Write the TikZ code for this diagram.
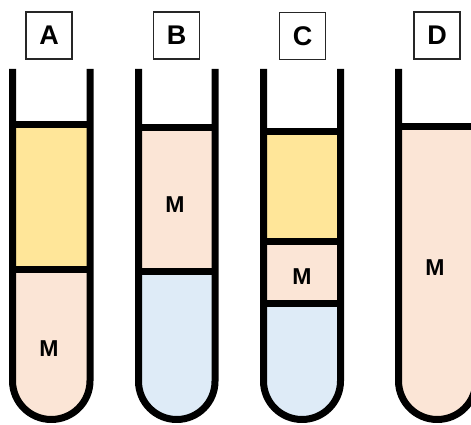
\documentclass[tikz,border=0pt]{standalone}
\usepackage{fontspec}
\setmainfont{Liberation Sans}
\definecolor{yel}{HTML}{FFE699}
\definecolor{peach}{HTML}{FBE5D6}
\definecolor{lblue}{HTML}{DEEBF7}
\newcommand\tubepath[2]{(#1,69) -- (#1,{423-3.5-(#2-#1)/2}) arc[start angle=180,end angle=360,radius={(#2-#1)/2*1pt}] -- (#2,69)}
\tikzset{
  wall/.style={line width=7pt,line join=round},
  layerline/.style={line width=7pt},
  labelbox/.style={draw=black!85,line width=1.6pt,minimum width=46pt,minimum height=47pt,inner sep=0pt,font=\fontsize{27}{27}\selectfont\bfseries},
  mlabel/.style={font=\fontsize{23}{23}\selectfont\bfseries,inner sep=0pt}
}
\begin{document}
\begin{tikzpicture}[x=1pt,y=-1pt]
\useasboundingbox (0,0) rectangle (471,425);
\clip (0,0) rectangle (471,425);
% Tube A
\begin{scope}
\clip \tubepath{12.5}{90} -- cycle;
\fill[yel] (0,125) rectangle (100,269);
\fill[peach] (0,269) rectangle (100,430);
\end{scope}
\draw[layerline] (12.5,125) -- (90,125);
\draw[layerline] (12.5,269) -- (90,269);
\draw[wall] \tubepath{12.5}{90};
% Tube B
\begin{scope}
\clip \tubepath{138.5}{215} -- cycle;
\fill[peach] (120,128) rectangle (230,271);
\fill[lblue] (120,271) rectangle (230,430);
\end{scope}
\draw[layerline] (138.5,128) -- (215,128);
\draw[layerline] (138.5,271) -- (215,271);
\draw[wall] \tubepath{138.5}{215};
% Tube C
\begin{scope}
\clip \tubepath{263.5}{340.5} -- cycle;
\fill[yel] (250,131.5) rectangle (350,241.5);
\fill[peach] (250,241.5) rectangle (350,303.5);
\fill[lblue] (250,303.5) rectangle (350,430);
\end{scope}
\draw[layerline] (263.5,131.5) -- (340.5,131.5);
\draw[layerline] (263.5,241.5) -- (340.5,241.5);
\draw[layerline] (263.5,303.5) -- (340.5,303.5);
\draw[wall] \tubepath{263.5}{340.5};
% Tube D
\begin{scope}
\clip \tubepath{398.5}{476} -- cycle;
\fill[peach] (390,126.5) rectangle (490,430);
\end{scope}
\draw[layerline] (398.5,126.5) -- (476,126.5);
\draw[wall] \tubepath{398.5}{476};
% Labels
\node[labelbox] (la) at (49,35.5) {A};
\node[labelbox] (lb) at (176.5,35.5) {B};
\node[labelbox] (lc) at (302.5,36) {C};
\node[labelbox] (ld) at (437,35.5) {D};
\node[mlabel] (ma) at (49,349) {M};
\node[mlabel] (mb) at (175,205) {M};
\node[mlabel] (mc) at (302,277) {M};
\node[mlabel] (md) at (435,268) {M};
\end{tikzpicture}
\end{document}
